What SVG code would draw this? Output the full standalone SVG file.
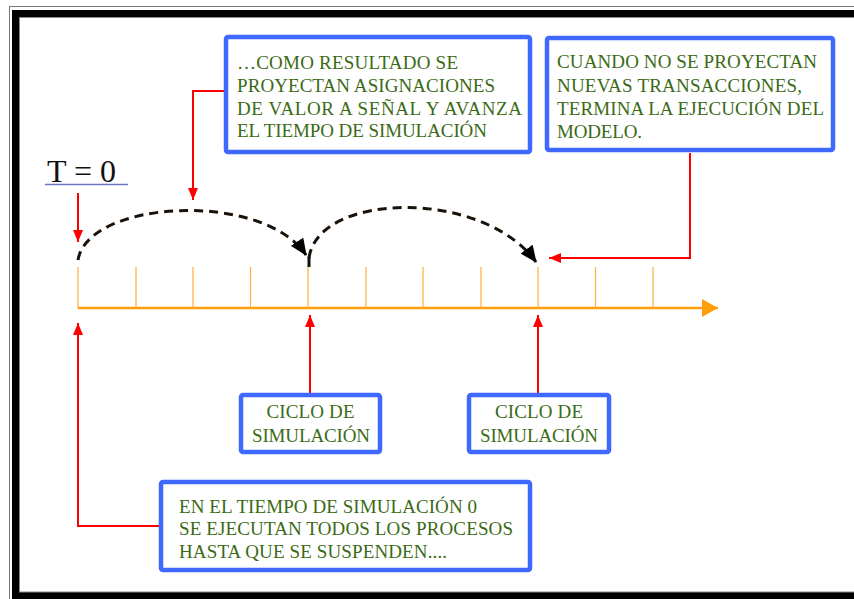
<svg xmlns="http://www.w3.org/2000/svg" width="854" height="599" viewBox="0 0 854 599">
<style>
.box{fill:#fff;stroke:#3f68ff;stroke-width:4.5}
.t{font-family:"Liberation Serif","Times New Roman",serif;font-size:19px;fill:#3b6a16}
.red{fill:none;stroke:#ff0000;stroke-width:2}
.tick{stroke:#ffae3a;stroke-width:1.2}
.dash{fill:none;stroke:#1a1208;stroke-width:3;stroke-dasharray:9 6}
</style>
<defs>
<marker id="ar" viewBox="0 0 12 10" refX="12" refY="5" markerWidth="12" markerHeight="10" markerUnits="userSpaceOnUse" orient="auto">
<path d="M0,0 L12,5 L0,10 Z" fill="#ff0000"/>
</marker>
<marker id="ab" viewBox="0 0 17 15" refX="16" refY="7.5" markerWidth="17" markerHeight="15" markerUnits="userSpaceOnUse" orient="auto">
<path d="M0,0 L17,7.5 L0,15 Z" fill="#000"/>
</marker>
<marker id="ao" viewBox="0 0 16 18" refX="16" refY="9" markerWidth="16" markerHeight="18" markerUnits="userSpaceOnUse" orient="auto">
<path d="M0,0 L16,9 L0,18 Z" fill="#ff9d0a"/>
</marker>
</defs>
<rect width="854" height="599" fill="#fff"/>
<g id="frame">
<rect x="9.5" y="6.5" width="900" height="620" fill="none" stroke="#777" stroke-width="1"/>
<rect x="15.5" y="13.5" width="900" height="582" fill="none" stroke="#000" stroke-width="7"/>
<rect x="19.5" y="17.5" width="900" height="574.5" fill="none" stroke="#888" stroke-width="1"/>
</g>
<g id="timeline">
<line x1="78" y1="308" x2="718" y2="308" stroke="#ff9d0a" stroke-width="2.5" marker-end="url(#ao)"/>
<g class="tick">
<line x1="78" y1="267" x2="78" y2="308"/><line x1="136" y1="267" x2="136" y2="308"/><line x1="193" y1="267" x2="193" y2="308"/><line x1="250.5" y1="267" x2="250.5" y2="308"/><line x1="308" y1="267" x2="308" y2="308"/><line x1="366" y1="267" x2="366" y2="308"/><line x1="423" y1="267" x2="423" y2="308"/><line x1="481" y1="267" x2="481" y2="308"/><line x1="538" y1="267" x2="538" y2="308"/><line x1="595.5" y1="267" x2="595.5" y2="308"/><line x1="653" y1="267" x2="653" y2="308"/>
</g>
</g>
<g id="t0">
<text x="47" y="182" font-family="Liberation Serif,serif" font-size="32" fill="#111">T = 0</text>
<line x1="45" y1="184.5" x2="128" y2="184.5" stroke="#6b78c0" stroke-width="1.5"/>
</g>
<g id="connectors">
<path class="dash" d="M78,260 C88,200 262,190 306,255" marker-end="url(#ab)"/>
<line x1="309" y1="257" x2="309" y2="267" stroke="#111" stroke-width="3"/>
<path class="dash" d="M309,258 C318,192 482,188 536,262" marker-end="url(#ab)"/>
<path class="red" d="M78,193 V242" marker-end="url(#ar)"/>
<path class="red" d="M226,91 H193 V200" marker-end="url(#ar)"/>
<path class="red" d="M690,153 V258 H549" marker-end="url(#ar)"/>
<path class="red" d="M310,393 V315" marker-end="url(#ar)"/>
<path class="red" d="M538,393 V315" marker-end="url(#ar)"/>
<path class="red" d="M159,526 H78 V323" marker-end="url(#ar)"/>
</g>
<g id="box1">
<rect class="box" x="226" y="37" width="304" height="115" rx="2"/>
<text class="t" x="237" y="69" textLength="221" lengthAdjust="spacing">…COMO RESULTADO SE</text>
<text class="t" x="237" y="92" textLength="258" lengthAdjust="spacing">PROYECTAN ASIGNACIONES</text>
<text class="t" x="237" y="114.5" textLength="285" lengthAdjust="spacing">DE VALOR A SEÑAL Y AVANZA</text>
<text class="t" x="237" y="137" textLength="250" lengthAdjust="spacing">EL TIEMPO DE SIMULACIÓN</text>
</g>
<g id="box2">
<rect class="box" x="547" y="38" width="286" height="112" rx="2"/>
<text class="t" x="557" y="68" textLength="260" lengthAdjust="spacing">CUANDO NO SE PROYECTAN</text>
<text class="t" x="557" y="92" textLength="245" lengthAdjust="spacing">NUEVAS TRANSACCIONES,</text>
<text class="t" x="557" y="115" textLength="267" lengthAdjust="spacing">TERMINA LA EJECUCIÓN DEL</text>
<text class="t" x="557" y="138" textLength="85" lengthAdjust="spacing">MODELO.</text>
</g>
<g id="ciclo1">
<rect class="box" x="241" y="395" width="139" height="57" rx="2"/>
<text class="t" x="266.5" y="418" textLength="88" lengthAdjust="spacing">CICLO DE</text>
<text class="t" x="252" y="442" textLength="118" lengthAdjust="spacing">SIMULACIÓN</text>
</g>
<g id="ciclo2">
<rect class="box" x="469" y="395" width="140" height="57" rx="2"/>
<text class="t" x="495" y="418" textLength="88" lengthAdjust="spacing">CICLO DE</text>
<text class="t" x="480" y="442" textLength="118" lengthAdjust="spacing">SIMULACIÓN</text>
</g>
<g id="box3">
<rect class="box" x="161" y="482" width="369" height="88" rx="2"/>
<text class="t" x="179" y="513" textLength="298" lengthAdjust="spacing">EN EL TIEMPO DE SIMULACIÓN 0</text>
<text class="t" x="179" y="535" textLength="334" lengthAdjust="spacing">SE EJECUTAN TODOS LOS PROCESOS</text>
<text class="t" x="179" y="558" textLength="268" lengthAdjust="spacing">HASTA QUE SE SUSPENDEN....</text>
</g>
</svg>
